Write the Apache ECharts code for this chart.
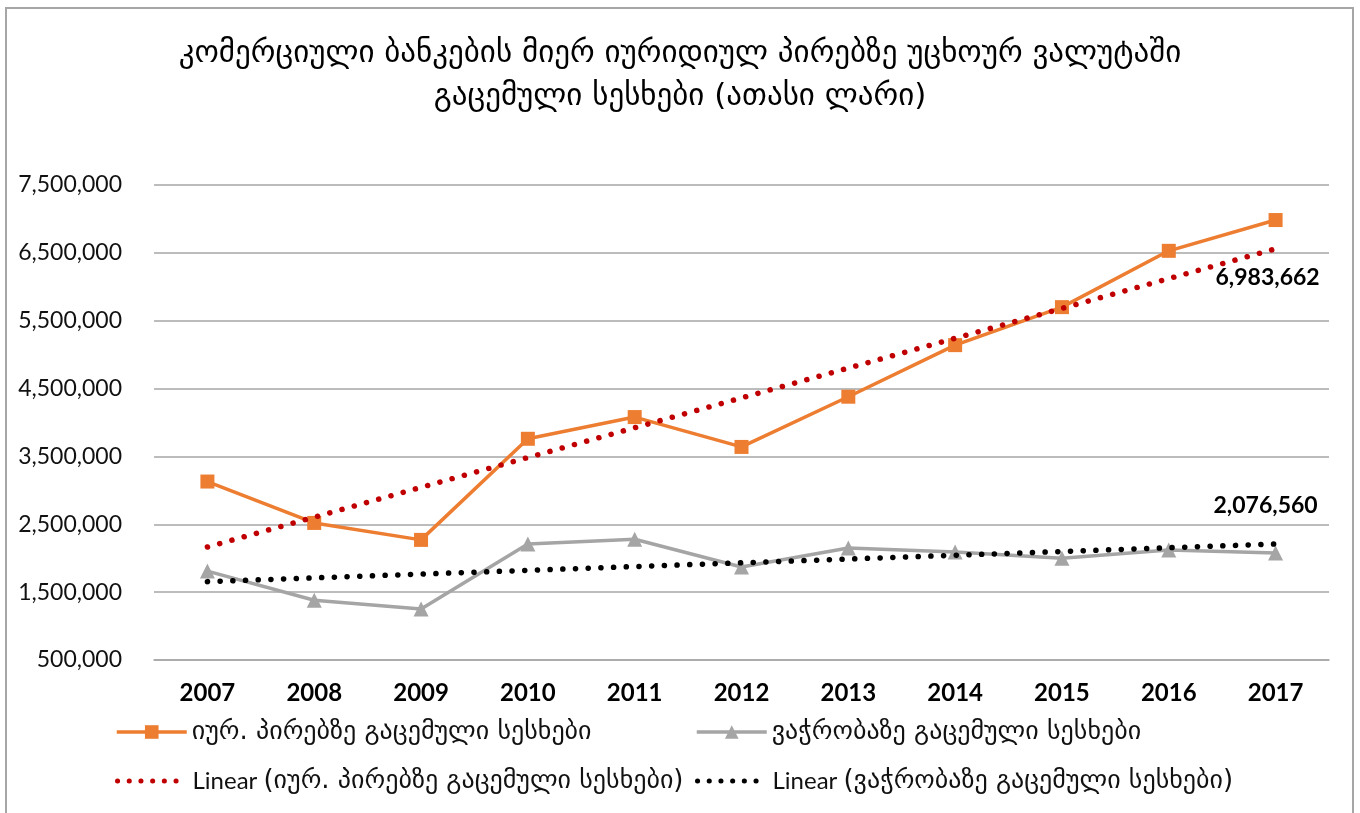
<!DOCTYPE html>
<html>
<head>
<meta charset="utf-8">
<style>
  html, body { margin: 0; padding: 0; background: #ffffff; }
  #chart { width: 1360px; height: 813px; }
</style>
<script src="https://cdn.jsdelivr.net/npm/echarts@6/dist/echarts.min.js"></script>
</head>
<body>
<div id="chart"></div>
<script>
// Years on the category axis
const years = ['2007', '2008', '2009', '2010', '2011', '2012', '2013', '2014', '2015', '2016', '2017'];

// Loans issued to legal entities (thousand GEL)
const legalEntityLoans = [3130000, 2520000, 2270000, 3760000, 4080000, 3640000, 4380000, 5140000, 5700000, 6530000, 6983662];

// Loans issued to trade (thousand GEL)
const tradeLoans = [1810000, 1380000, 1250000, 2210000, 2280000, 1870000, 2150000, 2090000, 2000000, 2120000, 2076560];

// Linear trend lines: start and end values, straight segment between them
const legalEntityTrend = [2165000, null, null, null, null, null, null, null, null, null, 6560000];
const tradeTrend = [1655000, null, null, null, null, null, null, null, null, null, 2210000];

// Y axis ticks
const yMin = 500000;
const yMax = 7500000;
const yStep = 1000000;

const seriesNames = [
  'იურ. პირებზე გაცემული სესხები',
  'ვაჭრობაზე გაცემული სესხები',
  'Linear (იურ. პირებზე გაცემული სესხები)',
  'Linear (ვაჭრობაზე გაცემული სესხები)'
];

const numFont = 'Lato, "DejaVu Sans", sans-serif';
const geoFont = '"DejaVu Sans", sans-serif';
const fmt = v => v.toLocaleString('en-US');

const lastIdx = years.length - 1;

function labelled(values, offset) {
  return values.map((v, i) => i === lastIdx ? {
    value: v,
    label: {
      show: true,
      formatter: p => fmt(p.value),
      position: 'inside',
      offset: offset,
      fontFamily: numFont,
      fontWeight: 'bold',
      fontSize: 23,
      color: '#000000'
    }
  } : v);
}

// Legend text: Latin words in Lato, Georgian words in DejaVu Sans
function legendText(name) {
  if (name.indexOf('Linear ') === 0) {
    return '{lat|Linear }{geo|' + name.slice(7) + '}';
  }
  return '{geo|' + name + '}';
}

const legendBase = {
  orient: 'horizontal',
  itemWidth: 70,
  itemHeight: 17,
  formatter: legendText,
  textStyle: {
    fontFamily: geoFont,
    fontSize: 26,
    color: '#111111',
    rich: {
      geo: { fontFamily: geoFont, fontSize: 26, color: '#111111' },
      lat: { fontFamily: numFont, fontSize: 24, color: '#111111' }
    }
  }
};

const solidLegend = {
  lineStyle: { width: 3.5 }
};

const dottedLegend = {
  itemStyle: { opacity: 0, color: 'transparent', borderWidth: 0 },
  lineStyle: { width: 5, type: [0.1, 11.6], cap: 'round' }
};

const chart = echarts.init(document.getElementById('chart'), null, { renderer: 'canvas' });

chart.setOption({
  backgroundColor: '#ffffff',
  animation: false,
  title: {
    text: 'კომერციული ბანკების მიერ იურიდიულ პირებზე უცხოურ ვალუტაში\nგაცემული სესხები (ათასი ლარი)',
    left: 'center',
    top: 27,
    textStyle: {
      fontFamily: geoFont,
      fontSize: 31,
      fontWeight: 'normal',
      lineHeight: 43,
      color: '#000000'
    }
  },
  graphic: [{
    type: 'rect',
    shape: { x: 6, y: 8, width: 1347, height: 830 },
    style: { fill: 'none', stroke: '#a6a6a6', lineWidth: 2 },
    silent: true,
    z: -1
  }],
  legend: [
    Object.assign({}, legendBase, solidLegend, { left: 110, top: 714, data: [seriesNames[0]] }),
    Object.assign({}, legendBase, solidLegend, { left: 690, top: 714, data: [seriesNames[1]] }),
    Object.assign({}, legendBase, dottedLegend, { left: 110, top: 763, data: [seriesNames[2]] }),
    Object.assign({}, legendBase, dottedLegend, { left: 690, top: 763, data: [seriesNames[3]] })
  ],
  grid: { left: 154, right: 31, top: 185, bottom: 153, containLabel: false },
  xAxis: {
    type: 'category',
    data: years,
    boundaryGap: true,
    axisLine: { show: true, lineStyle: { color: '#a6a6a6', width: 1.5 } },
    axisTick: { show: false },
    axisLabel: {
      margin: 21,
      fontFamily: numFont,
      fontWeight: 'bold',
      fontSize: 24,
      color: '#000000'
    }
  },
  yAxis: {
    type: 'value',
    min: yMin,
    max: yMax,
    interval: yStep,
    axisLine: { show: false },
    axisTick: { show: false },
    splitLine: { lineStyle: { color: '#a6a6a6', width: 1.5 } },
    axisLabel: {
      margin: 32,
      formatter: v => fmt(v),
      fontFamily: numFont,
      fontSize: 23,
      color: '#111111'
    }
  },
  series: [
    {
      name: seriesNames[0],
      type: 'line',
      data: labelled(legalEntityLoans, [-8, 58]),
      color: '#ed7d31',
      symbol: 'rect',
      symbolSize: 14,
      lineStyle: { width: 3.5, color: '#ed7d31' },
      itemStyle: { color: '#ed7d31' },
      z: 3
    },
    {
      name: seriesNames[1],
      type: 'line',
      data: labelled(tradeLoans, [-10, -47]),
      color: '#a5a5a5',
      symbol: 'triangle',
      symbolSize: 15,
      lineStyle: { width: 3.5, color: '#a5a5a5' },
      itemStyle: { color: '#a5a5a5' },
      z: 3
    },
    {
      name: seriesNames[2],
      type: 'line',
      data: legalEntityTrend,
      connectNulls: true,
      color: '#c00000',
      symbol: 'none',
      lineStyle: { width: 5.5, color: '#c00000', type: [0.1, 12.6], cap: 'round' },
      z: 4
    },
    {
      name: seriesNames[3],
      type: 'line',
      data: tradeTrend,
      connectNulls: true,
      color: '#000000',
      symbol: 'none',
      lineStyle: { width: 5.5, color: '#000000', type: [0.1, 12.6], cap: 'round' },
      z: 4
    }
  ]
});
</script>
</body>
</html>
